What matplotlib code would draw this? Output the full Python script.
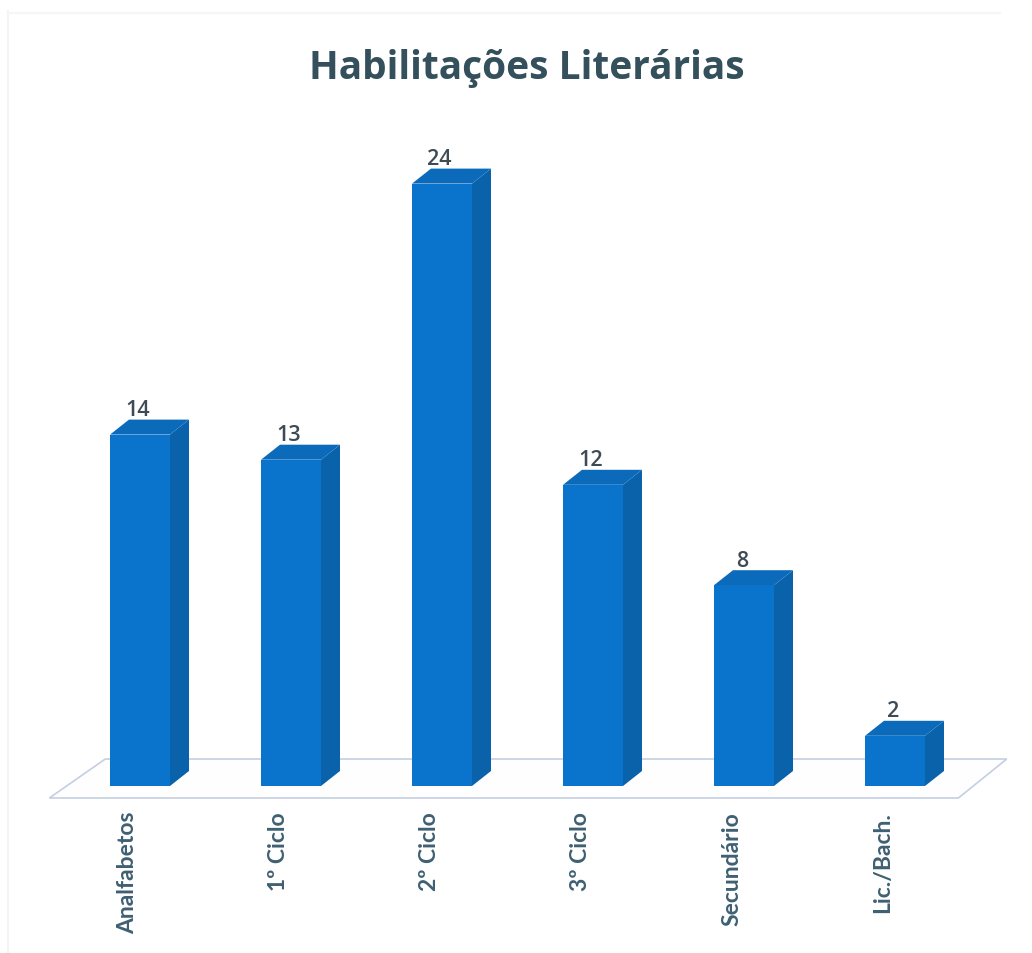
import matplotlib
matplotlib.use('Agg')
import matplotlib.pyplot as plt
from matplotlib.patches import Polygon

categories = ['Analfabetos', '1º Ciclo', '2º Ciclo', '3º Ciclo', 'Secundário', 'Lic./Bach.']
values = [14, 13, 24, 12, 8, 2]

W, H = 1032, 954
# pixel scale of the chart
x0_px, x_unit = 140, 151
y0_px, y_unit = 787, 25.1
bar_w = 60 / x_unit
dx = 19 / x_unit  # fake 3d depth
dy = 15 / y_unit

fig = plt.figure(figsize=(W / 100, H / 100), dpi=100, facecolor='white')
ax = fig.add_axes([0, 0, 1, 1])
ax.set_xlim(-x0_px / x_unit, (W - x0_px) / x_unit)
ax.set_ylim(-(H - y0_px) / y_unit, y0_px / y_unit)
ax.axis('off')

# floor of the chart
floor = [(-0.6, -12 / y_unit), (5.42, -12 / y_unit), (5.74, 27 / y_unit), (-0.23, 27 / y_unit)]
ax.add_patch(Polygon(floor, closed=True, facecolor='#fefeff', edgecolor='#c3cfe2', linewidth=1.2, zorder=1))

# scan edge
ax.plot([-132 / x_unit] * 2, [-(H - y0_px) / y_unit, 775 / y_unit], color='#f4f4f4', linewidth=1.5, zorder=0)
ax.plot([-132 / x_unit, 860 / x_unit], [773 / y_unit] * 2, color='#f6f6f6', linewidth=1.5, zorder=0)

xs = list(range(len(values)))
ax.bar(xs, values, width=bar_w, color='#0a74cc', zorder=3)
for x, v in zip(xs, values):
    l, r = x - bar_w / 2, x + bar_w / 2
    ax.add_patch(Polygon([(r, 0), (r + dx, dy), (r + dx, v + dy), (r, v)], facecolor='#0a62ab', zorder=3))
    ax.add_patch(Polygon([(l, v), (r, v), (r + dx, v + dy), (l + dx, v + dy)], facecolor='#0c6abb', zorder=3))
    ax.text(x - 0.015, v + 1.0, str(v), ha='center', va='center', fontsize=15.5,
            family='Open Sans', fontweight='semibold', color='#3e4b55', zorder=4)

for x, c in zip(xs, categories):
    ax.text(x - 0.08, -25 / y_unit, c, rotation=90, ha='center', va='top', fontsize=16.5,
            family='Lato', fontweight='bold', color='#3f6072')

ax.text((527 - x0_px) / x_unit, (y0_px - 68) / y_unit, 'Habilitações Literárias', ha='center', va='center',
        fontsize=28, fontweight='bold', family='Open Sans', color='#34505c')

fig.savefig('out.png', dpi=100)
